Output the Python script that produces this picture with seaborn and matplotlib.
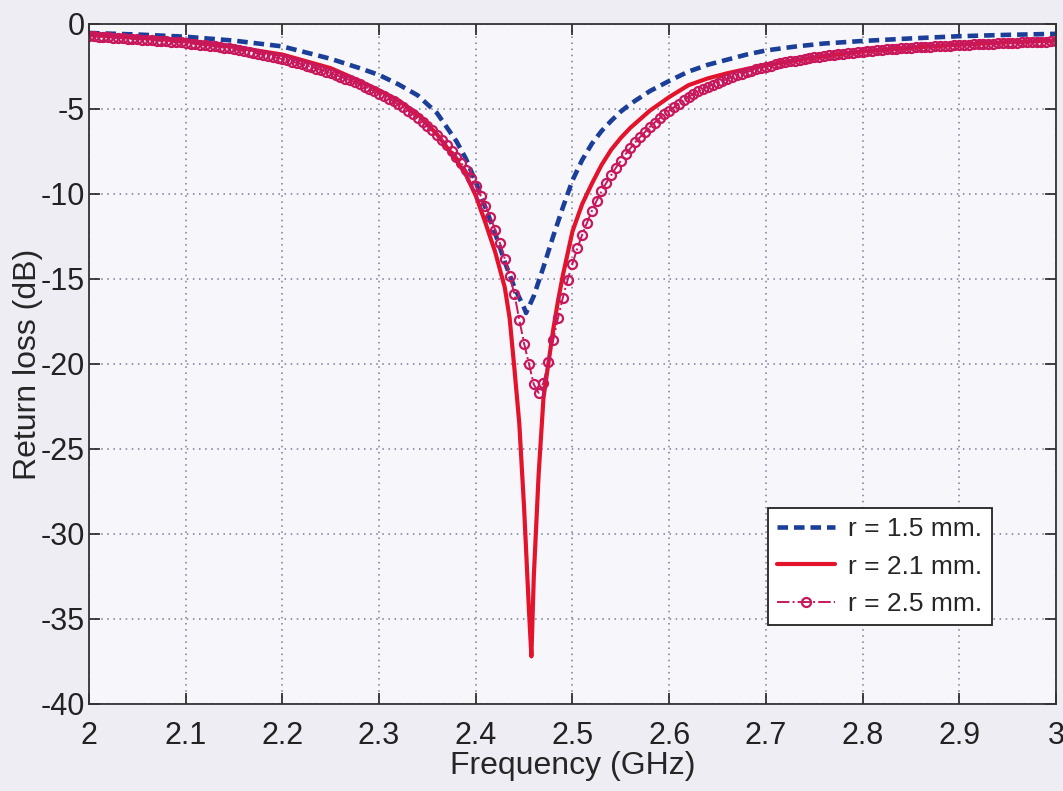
import matplotlib

matplotlib.use("agg")
import matplotlib.pyplot as plt
import seaborn as sns

# data
blue_freq = [2.00, 2.05, 2.10, 2.15, 2.20, 2.25, 2.28, 2.30, 2.32, 2.34, 2.36, 2.38, 2.39,
             2.40, 2.41, 2.42, 2.43, 2.44, 2.45, 2.452, 2.46, 2.47, 2.48, 2.49, 2.50, 2.51,
             2.52, 2.53, 2.54, 2.55, 2.56, 2.58, 2.60, 2.62, 2.64, 2.66, 2.68, 2.70, 2.73,
             2.76, 2.80, 2.85, 2.90, 2.95, 3.00]
blue_db = [-0.53, -0.62, -0.75, -0.98, -1.32, -2.05, -2.6, -3.0, -3.55, -4.2, -5.25, -6.9, -7.95,
           -9.3, -10.8, -12.3, -14.0, -15.5, -16.7, -17.0, -16.0, -14.3, -12.5, -10.8, -9.2, -8.0,
           -7.05, -6.3, -5.7, -5.15, -4.7, -3.95, -3.35, -2.8, -2.4, -2.1, -1.8, -1.56, -1.33,
           -1.15, -1.0, -0.85, -0.72, -0.64, -0.58]

red_freq = [2.00, 2.05, 2.10, 2.15, 2.20, 2.25, 2.27, 2.30, 2.32, 2.34, 2.36, 2.38, 2.39, 2.40,
            2.41, 2.42, 2.43, 2.435, 2.44, 2.445, 2.45, 2.455, 2.4575, 2.46, 2.465, 2.47, 2.475,
            2.48, 2.485, 2.49, 2.50, 2.51, 2.52, 2.53, 2.54, 2.55, 2.56, 2.58, 2.60, 2.62, 2.64,
            2.66, 2.68, 2.70, 2.73, 2.76, 2.80, 2.85, 2.90, 2.95, 3.00]
red_db = [-0.65, -0.8, -1.0, -1.35, -1.8, -2.6, -3.1, -3.9, -4.5, -5.3, -6.5, -8.0, -8.9, -10.1,
          -11.7, -13.4, -15.5, -17.3, -20.3, -23.5, -28.5, -34.5, -37.2, -32.5, -26.5, -22.0, -20.0,
          -18.0, -16.3, -14.8, -12.2, -10.6, -9.4, -8.3, -7.4, -6.7, -6.1, -5.1, -4.3, -3.6, -3.2,
          -2.9, -2.65, -2.45, -2.15, -1.9, -1.62, -1.4, -1.22, -1.08, -0.98]

# r = 2.5 mm, one marker every 5 MHz from 2.000 to 3.000 GHz
mag_freq = [round(2.0 + 0.005 * i, 3) for i in range(201)]
mag_db = [
    -0.70, -0.72, -0.74, -0.76, -0.78, -0.80, -0.82, -0.84, -0.86, -0.88,
    -0.90, -0.92, -0.94, -0.96, -0.98, -1.00, -1.02, -1.05, -1.07, -1.09,
    -1.12, -1.15, -1.18, -1.21, -1.25, -1.28, -1.32, -1.36, -1.40, -1.44,
    -1.49, -1.54, -1.59, -1.64, -1.69, -1.75, -1.81, -1.87, -1.93, -2.00,
    -2.07, -2.14, -2.21, -2.29, -2.37, -2.45, -2.53, -2.62, -2.71, -2.80,
    -2.90, -3.00, -3.10, -3.21, -3.32, -3.44, -3.56, -3.69, -3.82, -3.96,
    -4.10, -4.25, -4.40, -4.56, -4.73, -4.91, -5.10, -5.30, -5.52, -5.75,
    -6.00, -6.26, -6.53, -6.82, -7.12, -7.45, -7.80, -8.18, -8.60, -9.05,
    -9.55, -10.10, -10.70, -11.35, -12.10, -12.90, -13.80, -14.80, -15.90, -17.40,
    -18.80, -20.00, -21.20, -21.70, -21.10, -19.90, -18.60, -17.30, -16.10, -15.05,
    -14.10, -13.20, -12.40, -11.70, -11.00, -10.40, -9.85, -9.35, -8.90, -8.45,
    -8.05, -7.65, -7.30, -6.95, -6.65, -6.35, -6.05, -5.80, -5.55, -5.30,
    -5.10, -4.90, -4.70, -4.50, -4.30, -4.12, -3.96, -3.82, -3.69, -3.57,
    -3.46, -3.35, -3.24, -3.13, -3.03, -2.93, -2.84, -2.75, -2.67, -2.59,
    -2.52, -2.45, -2.38, -2.32, -2.26, -2.20, -2.15, -2.10, -2.05, -2.00,
    -1.96, -1.92, -1.88, -1.84, -1.80, -1.77, -1.74, -1.71, -1.68, -1.65,
    -1.62, -1.60, -1.57, -1.55, -1.53, -1.50, -1.48, -1.46, -1.44, -1.42,
    -1.40, -1.38, -1.37, -1.35, -1.33, -1.32, -1.30, -1.29, -1.27, -1.26,
    -1.24, -1.23, -1.22, -1.20, -1.19, -1.18, -1.16, -1.15, -1.14, -1.13,
    -1.12, -1.11, -1.10, -1.09, -1.08, -1.07, -1.06, -1.05, -1.04, -1.03,
    -1.02,
]

labels = ["r = 1.5 mm.", "r = 2.1 mm.", "r = 2.5 mm."]
xticks = [2.0, 2.1, 2.2, 2.3, 2.4, 2.5, 2.6, 2.7, 2.8, 2.9, 3.0]
xtick_labels = ["2", "2.1", "2.2", "2.3", "2.4", "2.5", "2.6", "2.7", "2.8", "2.9", "3"]
yticks = [0, -5, -10, -15, -20, -25, -30, -35, -40]
ytick_labels = ["0", "-5", "-10", "-15", "-20", "-25", "-30", "-35", "-40"]

# style
sns.set_style("ticks")
plt.rcParams["font.family"] = ["Liberation Sans Narrow", "Liberation Sans", "DejaVu Sans"]

fig = plt.figure(figsize=(10.63, 7.91), dpi=100, facecolor="#efedf4")
ax = fig.add_axes([0.0837, 0.110, 0.9097, 0.8597])
ax.set_facecolor("#f7f6fb")

# curves
sns.lineplot(x=blue_freq, y=blue_db, ax=ax, color="#1b3f98", lw=3.3,
             linestyle=(0, (2.3, 1.3)), label=labels[0])
sns.lineplot(x=red_freq, y=red_db, ax=ax, color="#e3132c", lw=3.0, label=labels[1])
sns.lineplot(x=mag_freq, y=mag_db, ax=ax, color="#c8185c", lw=1.4, linestyle="-.",
             marker="o", markersize=6.5, markerfacecolor="none", markeredgewidth=1.6,
             markeredgecolor="#c8185c", label=labels[2])

# axes
ax.set_xlim(2, 3)
ax.set_ylim(-40, 0)
ax.set_xticks(xticks)
ax.set_xticklabels(xtick_labels)
ax.set_yticks(yticks)
ax.set_yticklabels(ytick_labels)
ax.tick_params(direction="in", length=8, width=1.2, top=True, right=True,
               labelsize=22, pad=3, colors="#222222")
ax.tick_params(axis="x", pad=12)
for s in ax.spines.values():
    s.set_color("#333333")
    s.set_linewidth(1.3)
ax.grid(True, linestyle=(0, (1, 3)), color="#7a7a96", lw=1.1)
ax.set_xlabel("Frequency (GHz)", fontsize=23, labelpad=0)
ax.set_ylabel("Return loss (dB)", fontsize=23, labelpad=-2)

leg = ax.legend(loc="lower left", bbox_to_anchor=(0.702, 0.116), fontsize=19,
                frameon=True, fancybox=False, edgecolor="#222222", facecolor="white",
                framealpha=1, borderaxespad=0, handlelength=2.2, handletextpad=0.5,
                borderpad=0.35, labelspacing=0.5, numpoints=1)
leg.get_frame().set_linewidth(1.3)

plt.savefig("out.png", dpi=100, facecolor=fig.get_facecolor())
